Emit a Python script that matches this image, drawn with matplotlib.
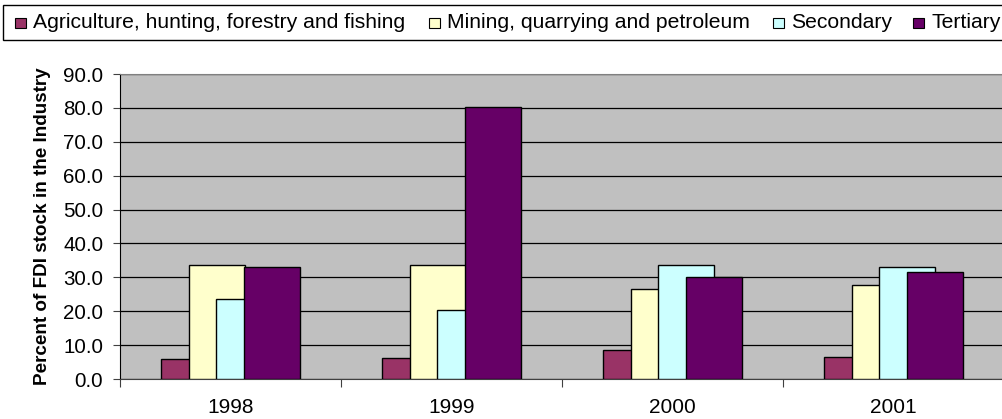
import numpy as np
import matplotlib
matplotlib.use('Agg')
import matplotlib.pyplot as plt
from matplotlib.patches import Rectangle

plt.rcParams['font.family'] = ['Liberation Sans', 'DejaVu Sans']

years = ['1998', '1999', '2000', '2001']
series = ['Agriculture, hunting, forestry and fishing',
          'Mining, quarrying and petroleum', 'Secondary', 'Tertiary']
agri = [6.0, 6.1, 8.7, 6.4]
mining = [33.5, 33.5, 26.6, 27.6]
secondary = [23.6, 20.4, 33.5, 33.1]
tertiary = [33.1, 80.4, 30.0, 31.7]
yticks = np.arange(0, 91, 10)

colors = ['#993366', '#FFFFCC', '#CCFFFF', '#660066']
W, H = 1002, 419
fig = plt.figure(figsize=(W / 100, H / 100), dpi=100)
fig.patch.set_facecolor('white')

# plot area (pixel coords from reference)
left, right, top, bottom = 120, 1004, 74, 379
ax = fig.add_axes([left / W, (H - bottom) / H, (right - left) / W, (bottom - top) / H])
ax.set_facecolor('#C0C0C0')

# excel-style overlapping clustered bars: each bar wide, next one covers half of it
x = np.arange(len(years))
bw = 0.253
step = 0.1245
for i, vals in enumerate([agri, mining, secondary, tertiary]):
    ax.bar(x + (i - 1.5) * step, vals, width=bw, color=colors[i],
           edgecolor='black', linewidth=1.0, zorder=3 + i)

ax.set_xlim(-0.5, 3.5)
ax.set_ylim(0, 90)
ax.set_yticks(yticks)
ax.set_yticklabels([f'{v:.1f}' for v in yticks], fontsize=14.8)
ax.yaxis.grid(True, color='black', linewidth=0.9, zorder=1)
ax.set_axisbelow(True)

ax.set_xticks(np.arange(-0.5, 4, 1.0))
ax.set_xticklabels([])
ax.set_xticks(x, minor=True)
ax.set_xticklabels(years, minor=True, fontsize=15)
ax.tick_params(axis='x', which='major', direction='out', length=6, color='#404040')
ax.tick_params(axis='x', which='minor', length=0, pad=14)
ax.tick_params(axis='y', direction='out', length=5, pad=7, color='#404040')

ax.spines['right'].set_visible(False)
ax.spines['top'].set_color('#808080')
ax.spines['left'].set_color('black')
ax.spines['bottom'].set_color('#404040')

ax.set_ylabel('Percent of FDI stock in the Industry', fontsize=13.6,
              fontweight='bold', labelpad=9)

# legend box across the top
fig.add_artist(Rectangle((2.5 / W, (H - 40) / H), 1.2, 35 / H, transform=fig.transFigure,
                         facecolor='white', edgecolor='black', linewidth=1.0))
leg_x = [15, 429, 773, 913]
for lx, lab, c in zip(leg_x, series, colors):
    fig.add_artist(Rectangle((lx / W, (H - 28) / H), 11 / W, 10 / H, transform=fig.transFigure,
                             facecolor=c, edgecolor='black', linewidth=0.8))
    fig.text((lx + 18) / W, (H - 22.5) / H, lab, fontsize=15.2, va='center', ha='left')

fig.savefig('out.png', dpi=100)
